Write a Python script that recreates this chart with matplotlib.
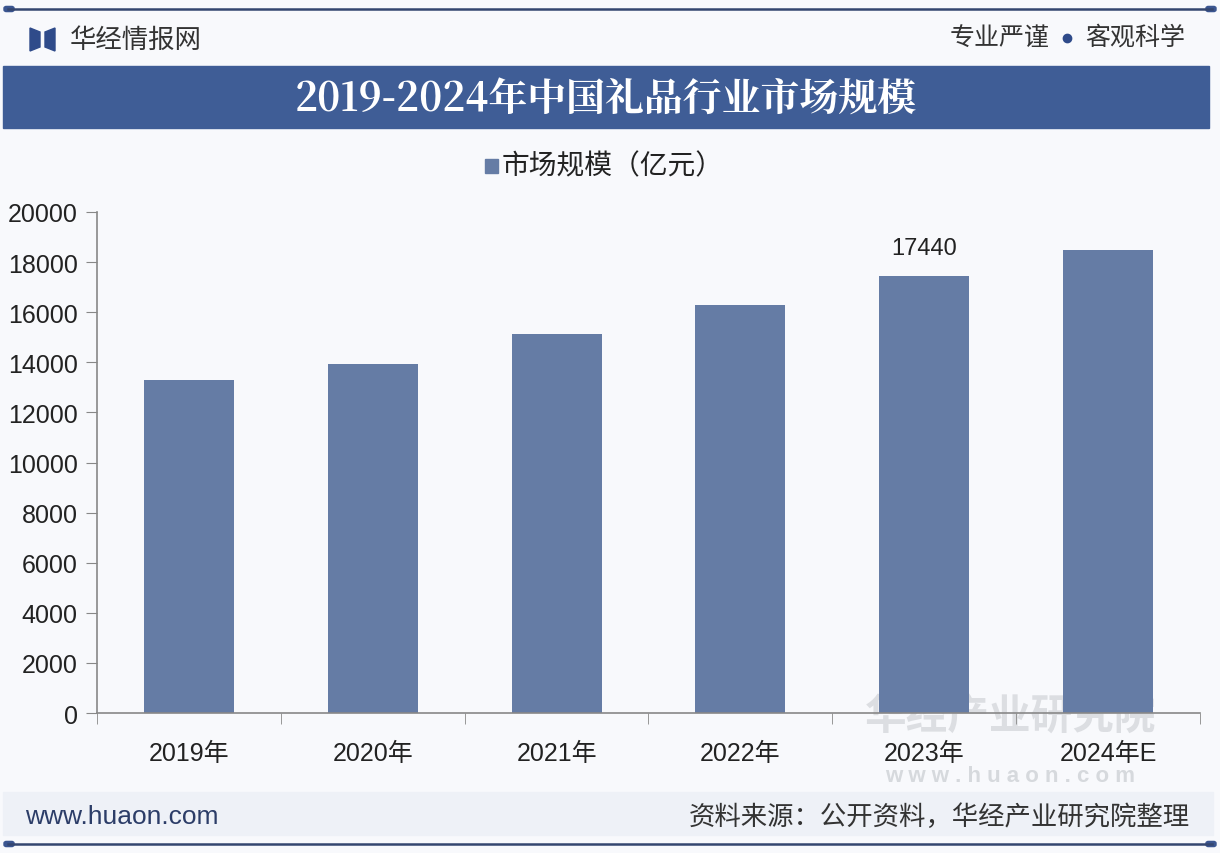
import matplotlib.pyplot as plt
from matplotlib.patches import Rectangle, Polygon, FancyBboxPatch

plt.rcParams["font.family"] = ["Liberation Sans", "Noto Sans CJK SC", "DejaVu Sans"]

years = ["2019年", "2020年", "2021年", "2022年", "2023年", "2024年E"]
market_size = [13310, 13940, 15140, 16270, 17440, 18490]
labelled_year = "2023年"
y_ticks = [0, 2000, 4000, 6000, 8000, 10000, 12000, 14000, 16000, 18000, 20000]

title = "2019-2024年中国礼品行业市场规模"
legend_label = "市场规模（亿元）"
brand = "华经情报网"
slogan_left = "专业严谨"
slogan_right = "客观科学"
site = "www.huaon.com"
source = "资料来源：公开资料，华经产业研究院整理"

W, H = 1220, 854
BAR_COLOR = "#657ca5"
BAND_COLOR = "#3f5d96"
NAVY = "#34466f"


def fx(px):
    return px / W


def fy(py):
    return 1 - py / H


fig = plt.figure(figsize=(W / 100, H / 100), dpi=100)
fig.patch.set_facecolor("#f8f9fc")

# frame lines at top and bottom
for line_y in (10, 845):
    fig.add_artist(plt.Line2D([fx(8), fx(1212)], [fy(line_y), fy(line_y)],
                              color=NAVY, lw=1.8))
    for end_x in (4, 1206):
        fig.add_artist(FancyBboxPatch((fx(end_x), fy(line_y) - 0.003), fx(10), 0.006,
                                      boxstyle="round,pad=0,rounding_size=0.002",
                                      color="#3a5590", transform=fig.transFigure))

# header: logo and texts
fig.add_artist(Polygon([[fx(30), fy(29)], [fx(40), fy(33)], [fx(40), fy(48)], [fx(30), fy(52)]],
                       closed=True, color="#2f4b8a", transform=fig.transFigure))
fig.add_artist(Polygon([[fx(45), fy(33)], [fx(55), fy(29)], [fx(55), fy(52)], [fx(45), fy(48)]],
                       closed=True, color="#2f4b8a", transform=fig.transFigure))
fig.text(fx(70), fy(40), brand, fontsize=19, color="#333333",
         family=["Noto Sans CJK SC"], va="center", ha="left")
fig.text(fx(1050), fy(38), slogan_left, fontsize=18, color="#333333",
         family=["Noto Sans CJK SC"], va="center", ha="right")
fig.text(fx(1185), fy(38), slogan_right, fontsize=18, color="#333333",
         family=["Noto Sans CJK SC"], va="center", ha="right")
fig.add_artist(plt.Line2D([fx(1067)], [fy(39)], marker="o", markersize=6,
                          color="#2f4b8a", transform=fig.transFigure))

# title band
fig.add_artist(Rectangle((fx(3), fy(129)), fx(1206), (129 - 67) / H,
                         color=BAND_COLOR, transform=fig.transFigure))
fig.text(fx(606), fy(100), title, fontsize=28, color="white", fontweight="bold",
         family=["Noto Serif CJK SC", "Noto Sans CJK SC"], va="center", ha="center")

# footer band
fig.add_artist(Rectangle((fx(3), fy(836)), fx(1210), (836 - 793) / H,
                         color="#eef1f7", transform=fig.transFigure))
fig.text(fx(25), fy(817), site, fontsize=19, color="#2c3d68", va="center", ha="left")
fig.text(fx(1190), fy(817), source, fontsize=19, color="#333333",
         family=["Noto Sans CJK SC"], va="center", ha="right")

# faint watermark behind the chart
fig.text(fx(1010), fy(718), "华经产业研究院", fontsize=30, color="#dcdee2",
         family=["Noto Sans CJK SC"], va="center", ha="center", fontweight="bold", zorder=0)
fig.text(fx(1010), fy(777), "w w w . h u a o n . c o m", fontsize=16, color="#d6d9dd",
         va="center", ha="center", fontweight="bold", zorder=0)

# chart
ax = fig.add_axes([fx(97), fy(714), fx(1103), 501 / H])
ax.set_zorder(2)
ax.set_facecolor("none")
x = range(len(years))
ax.bar(x, market_size, width=0.49, color=BAR_COLOR, zorder=2)

ax.set_xlim(-0.5, len(years) - 0.5)
ax.set_ylim(0, 20000)
ax.set_yticks(y_ticks)
ax.set_yticklabels([str(v) for v in y_ticks], fontsize=18, color="#222222")
ax.set_xticks(list(x))
ax.set_xticklabels(years, fontsize=18, color="#222222")
ax.set_xticks([i - 0.5 for i in range(len(years) + 1)], minor=True)
ax.tick_params(axis="x", which="major", length=0, pad=20)
ax.tick_params(axis="x", which="minor", length=8, color="#888888", direction="out")
ax.tick_params(axis="y", length=8, color="#888888", direction="out", pad=6)

for side in ("top", "right"):
    ax.spines[side].set_visible(False)
for side in ("left", "bottom"):
    ax.spines[side].set_color("#888888")
    ax.spines[side].set_linewidth(1.2)

i = years.index(labelled_year)
ax.annotate(str(market_size[i]), (i, market_size[i]), xytext=(0, 12),
            textcoords="offset points", ha="center", va="bottom",
            fontsize=17, color="#222222")

# legend
fig.add_artist(Rectangle((fx(485), fy(174)), fx(13), 14 / H, color=BAR_COLOR,
                         transform=fig.transFigure))
fig.text(fx(502), fy(166), legend_label, fontsize=20, color="#222222",
         family=["Noto Sans CJK SC"], va="center", ha="left")

fig.savefig("out.png", dpi=100, facecolor=fig.get_facecolor())
